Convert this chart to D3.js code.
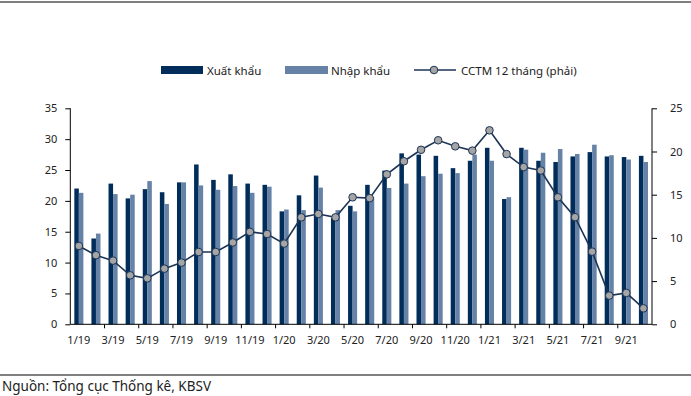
<!DOCTYPE html>
<html>
<head>
<meta charset="utf-8">
<script src="https://cdn.jsdelivr.net/npm/d3@7"></script>
<style>
    body { margin: 0; background: #fff; }
    svg text { font-family: "Noto Sans", "Open Sans", sans-serif; fill: #222; }
</style>
</head>
<body>
<div id="chart"></div>
<script>
    // months 1/19 .. 10/21
    const months = [
        "1/19", "2/19", "3/19", "4/19", "5/19", "6/19", "7/19", "8/19", "9/19", "10/19", "11/19", "12/19",
        "1/20", "2/20", "3/20", "4/20", "5/20", "6/20", "7/20", "8/20", "9/20", "10/20", "11/20", "12/20",
        "1/21", "2/21", "3/21", "4/21", "5/21", "6/21", "7/21", "8/21", "9/21", "10/21"
    ];
    const exportValues = [
        22.0, 13.9, 22.8, 20.4, 21.9, 21.4, 23.0, 25.9, 23.4, 24.3, 22.8, 22.6,
        18.3, 20.9, 24.1, 17.2, 19.2, 22.6, 24.9, 27.7, 27.5, 27.3, 25.3, 26.5,
        28.6, 20.3, 28.6, 26.5, 26.3, 27.2, 27.9, 27.2, 27.1, 27.3
    ];
    const importValues = [
        21.3, 14.7, 21.1, 21.0, 23.2, 19.5, 23.0, 22.5, 21.8, 22.4, 21.3, 22.3,
        18.6, 18.5, 22.15, 18.5, 18.3, 20.6, 22.1, 22.8, 24.0, 24.4, 24.5, 27.5,
        26.5, 20.6, 28.3, 27.8, 28.4, 27.6, 29.1, 27.4, 26.7, 26.3
    ];
    // CCTM 12 thang (right axis)
    const growthValues = [
        9.07, 8.0, 7.37, 5.67, 5.32, 6.44, 7.14, 8.37, 8.37, 9.47, 10.7, 10.45,
        9.34, 12.38, 12.77, 12.38, 14.7, 14.6, 17.36, 18.87, 20.2, 21.3, 20.6, 20.1,
        22.45, 19.7, 18.2, 17.8, 14.7, 12.4, 8.41, 3.32, 3.63, 1.85
    ];
    const leftTicks = [0, 5, 10, 15, 20, 25, 30, 35];
    const rightTicks = [0, 5, 10, 15, 20, 25];
    const legendLabels = ["Xuất khẩu", "Nhập khẩu", "CCTM 12 tháng (phải)"];
    const sourceText = "Nguồn: Tổng cục Thống kê, KBSV";

    (function () {
        const width = 691;
        const height = 396;
        const colExport = "#002d5a";
        const colImport = "#6682a6";
        const colLine = "#1c3556";
        const colMarker = "#a5a5a5";

        const svg = d3.select("#chart").append("svg").attr("width", width).attr("height", height);

        const plotLeft = 70.3, plotRight = 652, plotTop = 108.3, plotBottom = 324.3;

        const x = d3.scaleBand().domain(months).range([plotLeft, plotRight]).paddingInner(0.47).paddingOuter(0.235);
        const xSub = d3.scaleBand().domain(["exp", "imp"]).range([0, x.bandwidth()]);
        const yLeft = d3.scaleLinear().domain([0, 35]).range([plotBottom, plotTop]);
        const yRight = d3.scaleLinear().domain([0, 25]).range([plotBottom, plotTop]);

        // top rule
        svg.append("line").attr("x1", 0).attr("x2", width).attr("y1", 2).attr("y2", 2).attr("stroke", "#000").attr("stroke-width", 1.2);

        // bars
        const barGroup = svg.append("g");
        barGroup
            .selectAll(".exp")
            .data(exportValues)
            .join("rect")
            .attr("class", "exp")
            .attr("x", (d, i) => x(months[i]) + xSub("exp"))
            .attr("y", (d) => yLeft(d))
            .attr("width", xSub.bandwidth())
            .attr("height", (d) => plotBottom - yLeft(d))
            .attr("fill", colExport);
        barGroup
            .selectAll(".imp")
            .data(importValues)
            .join("rect")
            .attr("class", "imp")
            .attr("x", (d, i) => x(months[i]) + xSub("imp"))
            .attr("y", (d) => yLeft(d))
            .attr("width", xSub.bandwidth())
            .attr("height", (d) => plotBottom - yLeft(d))
            .attr("fill", colImport);

        // axes
        const axisL = svg
            .append("g")
            .attr("transform", `translate(${plotLeft},0)`)
            .call(d3.axisLeft(yLeft).tickValues(leftTicks).tickSize(5).tickPadding(8));
        const axisR = svg
            .append("g")
            .attr("transform", `translate(${plotRight},0)`)
            .call(d3.axisRight(yRight).tickValues(rightTicks).tickSize(5).tickPadding(13));
        [axisL, axisR].forEach((g) => {
            g.select(".domain").attr("stroke", "#000").attr("d", `M0,${plotTop}V${plotBottom}`);
            g.selectAll("line").attr("stroke", "#000");
            g.selectAll("text").style("font-size", "11px").attr("fill", "#222");
        });

        const labelMonths = months.filter((m, i) => i % 2 === 0);
        const axisB = svg
            .append("g")
            .attr("transform", `translate(0,${plotBottom})`)
            .call(d3.axisBottom(x).tickValues(labelMonths).tickSize(0).tickPadding(12));
        axisB.select(".domain").attr("stroke", "#000").attr("d", `M${plotLeft},0H${plotRight}`);
        axisB.selectAll("text").style("font-size", "11px").attr("fill", "#222");

        // tick marks between every two months
        const step = x.step();
        const tickPos = d3.range(2, months.length, 2).map((i) => plotLeft + step * i);
        svg.append("g")
            .selectAll("line")
            .data(tickPos)
            .join("line")
            .attr("x1", (d) => d)
            .attr("x2", (d) => d)
            .attr("y1", plotBottom)
            .attr("y2", plotBottom + 4)
            .attr("stroke", "#000");

        // line series
        const cx = (i) => x(months[i]) + x.bandwidth() / 2;
        const line = d3
            .line()
            .x((d, i) => cx(i))
            .y((d) => yRight(d));
        svg.append("path").datum(growthValues).attr("d", line).attr("fill", "none").attr("stroke", colLine).attr("stroke-width", 1.6);
        svg.append("g")
            .selectAll("circle")
            .data(growthValues)
            .join("circle")
            .attr("cx", (d, i) => cx(i))
            .attr("cy", (d) => yRight(d))
            .attr("r", 3.8)
            .attr("fill", colMarker)
            .attr("stroke", colLine)
            .attr("stroke-width", 1);

        // legend
        const legend = svg.append("g").attr("transform", "translate(0,70)");
        legend.append("rect").attr("x", 161).attr("y", -4).attr("width", 42).attr("height", 8).attr("fill", colExport);
        legend.append("text").attr("x", 207).attr("y", 4.5).style("font-size", "11.5px").text(legendLabels[0]);
        legend.append("rect").attr("x", 285).attr("y", -4).attr("width", 43).attr("height", 8).attr("fill", colImport);
        legend.append("text").attr("x", 331).attr("y", 4.5).style("font-size", "11.5px").text(legendLabels[1]);
        legend.append("line").attr("x1", 414).attr("x2", 456).attr("y1", 0).attr("y2", 0).attr("stroke", colLine).attr("stroke-width", 1.6);
        legend.append("circle").attr("cx", 434).attr("cy", 0).attr("r", 3.8).attr("fill", colMarker).attr("stroke", colLine);
        legend.append("text").attr("x", 461).attr("y", 4.5).style("font-size", "11.5px").text(legendLabels[2]);

        // source
        svg.append("line").attr("x1", 0).attr("x2", width).attr("y1", 375).attr("y2", 375).attr("stroke", "#000").attr("stroke-width", 1.2);
        svg.append("text").attr("x", 2).attr("y", 391).style("font-size", "13.5px").text(sourceText);
    })();
</script>
</body>
</html>
